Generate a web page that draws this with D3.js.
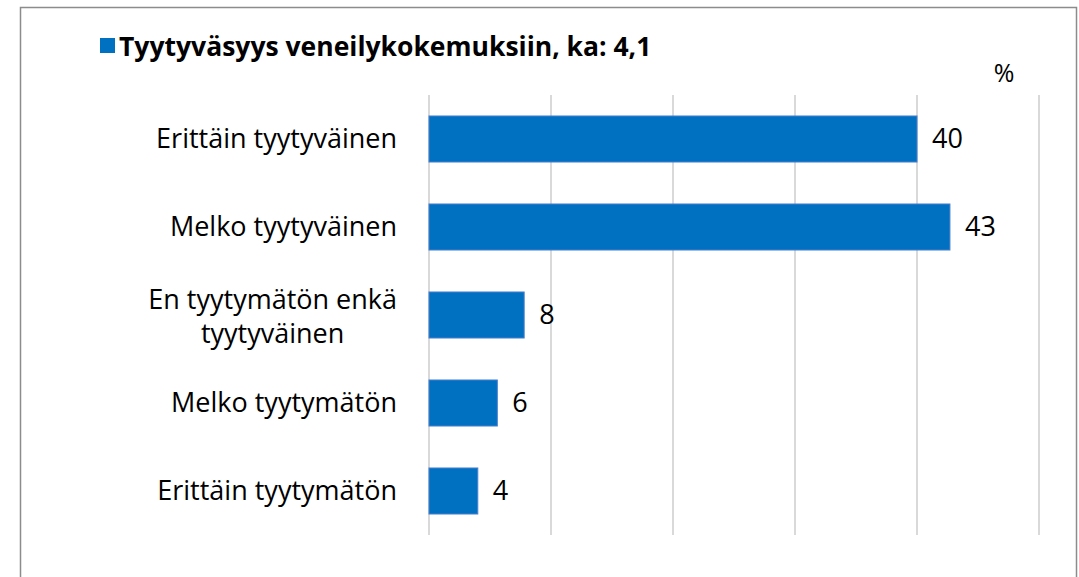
<!DOCTYPE html>
<html>
<head>
<meta charset="utf-8">
<script src="https://cdn.jsdelivr.net/npm/d3@7"></script>
<style>
  body { margin: 0; background: #fff; }
  svg { display: block; font-family: "Open Sans", "Liberation Sans", sans-serif; }
</style>
</head>
<body>
<div id="chart"></div>
<script>
// data
var categories = [
  ["Erittäin tyytyväinen"],
  ["Melko tyytyväinen"],
  ["En tyytymätön enkä", "tyytyväinen"],
  ["Melko tyytymätön"],
  ["Erittäin tyytymätön"]
];
var values = [40, 42.7, 7.8, 5.6, 4.0];
var xTicks = [0, 10, 20, 30, 40, 50];
var seriesName = "Tyytyväsyys veneilykokemuksiin, ka: 4,1";
var unitLabel = "%";

var width = 1079, height = 577;
var barColor = "#0070C0";
var fontSize = 27;
var margin = {left: 429, right: 40, top: 95, bottom: 42};

var svg = d3.select("#chart").append("svg")
  .attr("width", width)
  .attr("height", height);

// frame
svg.append("rect")
  .attr("x", 20.5).attr("y", 7.5)
  .attr("width", 1056).attr("height", 600)
  .attr("fill", "none")
  .attr("stroke", "#8c8c8c")
  .attr("stroke-width", 1.5);

var x = d3.scaleLinear()
  .domain([0, 50])
  .range([margin.left, width - margin.right]);

var y = d3.scaleBand()
  .domain(d3.range(categories.length))
  .range([margin.top, height - margin.bottom])
  .paddingInner(0.477)
  .paddingOuter(0.2385);

// gridlines
svg.append("g").selectAll("line")
  .data(xTicks)
  .enter().append("line")
  .attr("x1", d => x(d)).attr("x2", d => x(d))
  .attr("y1", margin.top).attr("y2", height - margin.bottom)
  .attr("stroke", "#d9d9d9")
  .attr("stroke-width", 2);

// bars
svg.append("g").selectAll("rect")
  .data(values)
  .enter().append("rect")
  .attr("x", x(0))
  .attr("y", (d, i) => y(i))
  .attr("width", d => x(d) - x(0))
  .attr("height", y.bandwidth())
  .attr("fill", barColor)
  .attr("stroke", "#4a7fd0")
  .attr("stroke-width", 1);

// value labels
svg.append("g").selectAll("text")
  .data(values)
  .enter().append("text")
  .attr("x", d => x(d) + 15)
  .attr("y", (d, i) => y(i) + y.bandwidth() / 2)
  .attr("dy", "0.35em")
  .attr("font-size", fontSize)
  .attr("fill", "#000")
  .text(d => d3.format(".0f")(d));

// category labels
var labelRight = 397;
var cat = svg.append("g").selectAll("text")
  .data(categories)
  .enter().append("text")
  .attr("font-size", fontSize)
  .attr("fill", "#000");

cat.each(function(lines, i) {
  var t = d3.select(this);
  var lh = 34;
  var cy = y(i) + y.bandwidth() / 2 + 2;
  lines.forEach(function(s, k) {
    t.append("tspan")
      .attr("y", cy + (k - (lines.length - 1) / 2) * lh)
      .attr("dy", "0.35em")
      .text(s);
  });
  if (lines.length === 1) {
    t.attr("text-anchor", "end").selectAll("tspan").attr("x", labelRight).attr("y", cy - 2);
  } else {
    var maxW = 0;
    t.selectAll("tspan").each(function() {
      maxW = Math.max(maxW, this.getComputedTextLength());
    });
    t.attr("text-anchor", "middle").selectAll("tspan").attr("x", labelRight - maxW / 2);
  }
});

// legend
svg.append("rect")
  .attr("x", 100).attr("y", 38)
  .attr("width", 15).attr("height", 15)
  .attr("fill", barColor);
svg.append("text")
  .attr("x", 119).attr("y", 56)
  .attr("font-size", 26.5)
  .attr("font-weight", "bold")
  .text(seriesName);

// unit label
svg.append("text")
  .attr("x", 1004).attr("y", 82)
  .attr("font-size", 25)
  .attr("text-anchor", "middle")
  .text(unitLabel);
</script>
</body>
</html>
